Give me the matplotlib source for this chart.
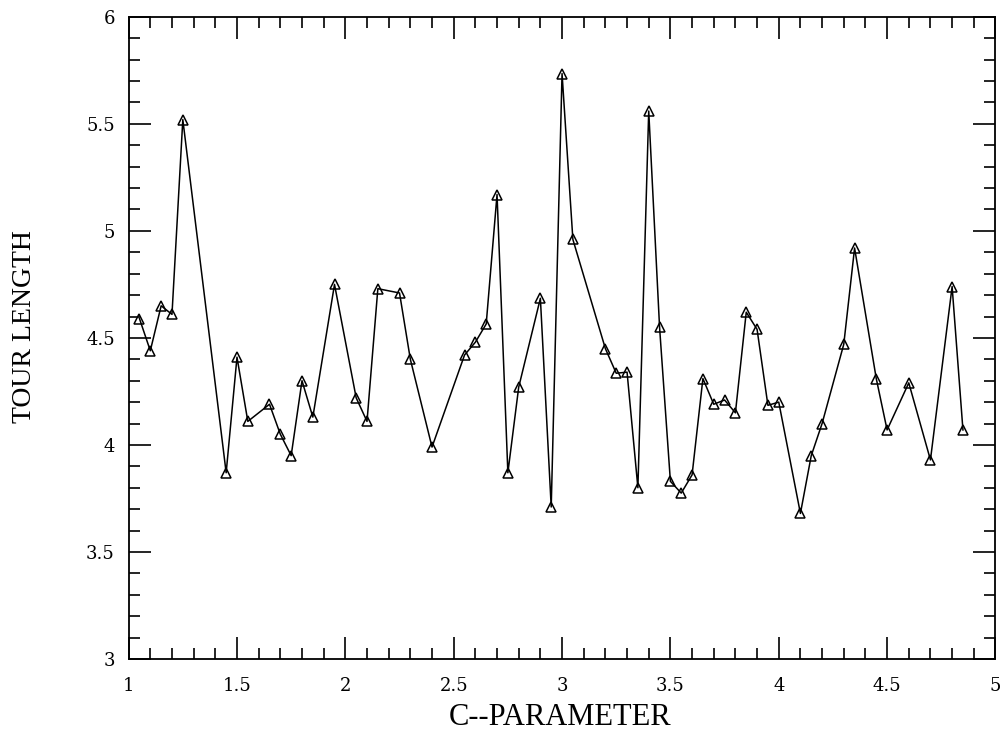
import matplotlib
matplotlib.use("Agg")
import matplotlib.pyplot as plt
from matplotlib.ticker import MultipleLocator, FuncFormatter

# C-parameter values and the resulting tour lengths
c_param = [1.05, 1.10, 1.15, 1.20, 1.25, 1.45, 1.50, 1.55, 1.65, 1.70,
           1.75, 1.80, 1.85, 1.95, 2.05, 2.10, 2.15, 2.25, 2.30, 2.40,
           2.55, 2.60, 2.65, 2.70, 2.75, 2.80, 2.90, 2.95, 3.00, 3.05,
           3.20, 3.25, 3.30, 3.35, 3.40, 3.45, 3.50, 3.55, 3.60, 3.65,
           3.70, 3.75, 3.80, 3.85, 3.90, 3.95, 4.00, 4.10, 4.15, 4.20,
           4.30, 4.35, 4.45, 4.50, 4.60, 4.70, 4.80, 4.85]
tour_length = [4.59, 4.44, 4.65, 4.61, 5.52, 3.87, 4.41, 4.11, 4.19, 4.05,
               3.95, 4.30, 4.13, 4.75, 4.22, 4.11, 4.73, 4.71, 4.40, 3.99,
               4.42, 4.48, 4.565, 5.17, 3.87, 4.27, 4.685, 3.71, 5.735, 4.96,
               4.45, 4.335, 4.34, 3.80, 5.56, 4.55, 3.83, 3.775, 3.86, 4.31,
               4.19, 4.21, 4.15, 4.62, 4.54, 4.185, 4.20, 3.68, 3.95, 4.10,
               4.47, 4.92, 4.31, 4.07, 4.29, 3.93, 4.74, 4.07]

plt.rcParams['font.family'] = ['DejaVu Serif']

fig = plt.figure(figsize=(10.05, 7.33), dpi=100)
ax = fig.add_axes([0.128, 0.101, 0.8625, 0.876])

ax.plot(c_param, tour_length, color='black', linewidth=1.1,
        marker='^', markersize=7.5, markerfacecolor='none',
        markeredgecolor='black', markeredgewidth=1.1)

ax.set_xlim(1, 5)
ax.set_ylim(3, 6)
ax.xaxis.set_major_locator(MultipleLocator(0.5))
ax.xaxis.set_minor_locator(MultipleLocator(0.1))
ax.yaxis.set_major_locator(MultipleLocator(0.5))
ax.yaxis.set_minor_locator(MultipleLocator(0.1))
fmt = FuncFormatter(lambda v, p: f"{v:g}")
ax.xaxis.set_major_formatter(fmt)
ax.yaxis.set_major_formatter(fmt)

ax.tick_params(which='both', direction='in', top=True, right=True,
               labelsize=13, width=1.2)
ax.tick_params(which='major', length=16, pad=10)
ax.tick_params(axis='x', which='major', pad=13)
ax.tick_params(which='minor', length=8)
for s in ax.spines.values():
    s.set_linewidth(1.3)

ax.set_xlabel('C--PARAMETER', fontsize=22, family='Liberation Serif')
ax.set_ylabel('TOUR LENGTH', fontsize=20, family='Liberation Serif')
ax.xaxis.set_label_coords(0.498, -0.0915)
ax.yaxis.set_label_coords(-0.1207, 0.517)
ax.xaxis.label.set_va('center')
ax.yaxis.label.set_va('center')

fig.savefig('out.png', dpi=100)
